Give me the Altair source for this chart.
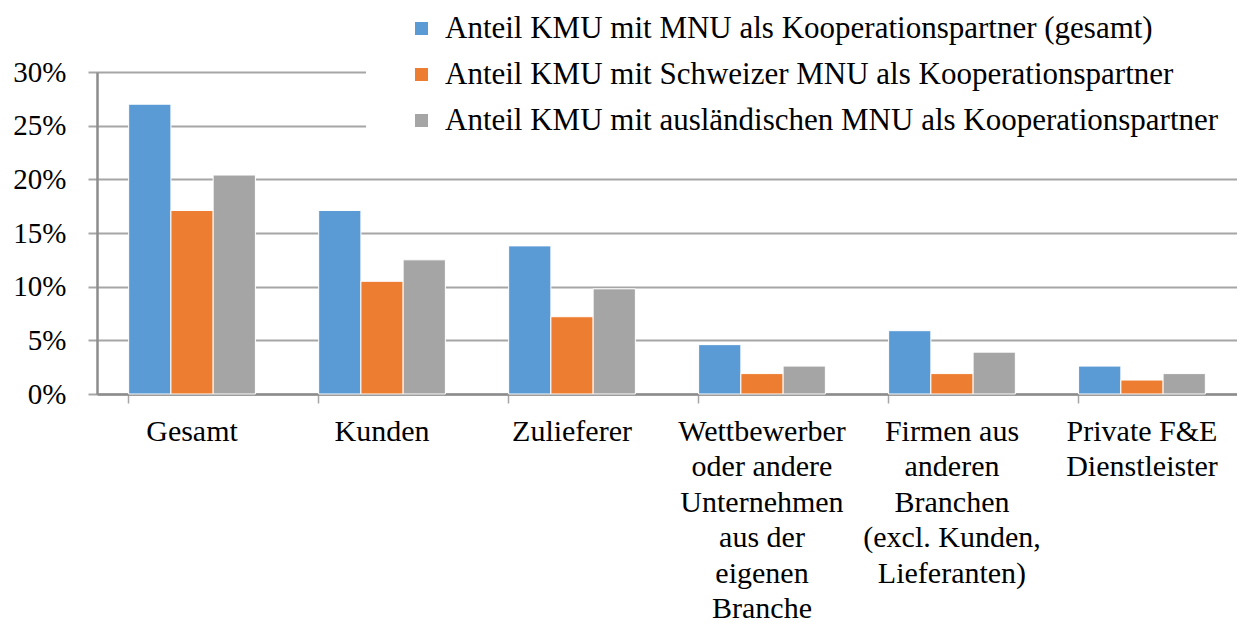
import altair as alt
import pandas as pd

categories = ["Gesamt", "Kunden", "Zulieferer",
              "Wettbewerber|oder andere|Unternehmen|aus der|eigenen|Branche",
              "Firmen aus|anderen|Branchen|(excl. Kunden,|Lieferanten)",
              "Private F&E|Dienstleister"]
series = ["Anteil KMU mit MNU als Kooperationspartner (gesamt)",
          "Anteil KMU mit Schweizer MNU als Kooperationspartner",
          "Anteil KMU mit ausländischen MNU als Kooperationspartner"]
gesamt = [0.270, 0.171, 0.138, 0.046, 0.059, 0.026]
schweizer = [0.171, 0.105, 0.072, 0.019, 0.019, 0.013]
auslaendisch = [0.204, 0.125, 0.098, 0.026, 0.039, 0.019]
colors = ["#5B9BD5", "#ED7D31", "#A5A5A5"]

rows = []
for s, vals in zip(series, [gesamt, schweizer, auslaendisch]):
    for c, v in zip(categories, vals):
        rows.append({"Kategorie": c, "Serie": s, "Wert": v})
df = pd.DataFrame(rows)

FONT = "Liberation Serif"

chart = alt.Chart(df).mark_bar(stroke="white", strokeWidth=1).encode(
    x=alt.X("Kategorie:N", sort=categories, title=None,
            scale=alt.Scale(paddingInner=0.333, paddingOuter=0.1667),
            axis=alt.Axis(labelAngle=0, labelExpr="split(datum.label, '|')",
                          labelFont=FONT, labelFontSize=30, labelColor="black",
                          labelLineHeight=35.5, labelPadding=13, labelBaseline="top",
                          bandPosition=0, ticks=True, tickSize=9, tickColor="#a6a6a6",
                          tickWidth=1.5, domainColor="#8c8c8c", domainWidth=2.5,
                          grid=False, labelLimit=300)),
    xOffset=alt.XOffset("Serie:N", sort=series),
    y=alt.Y("Wert:Q", title=None,
            scale=alt.Scale(domain=[0, 0.30], nice=False),
            axis=alt.Axis(format=".0%", values=[0, 0.05, 0.10, 0.15, 0.20, 0.25, 0.30],
                          labelFont=FONT, labelFontSize=29, labelColor="black",
                          labelPadding=22, tickSize=9, tickColor="#a6a6a6", tickWidth=2,
                          domainColor="#8c8c8c", domainWidth=2.5,
                          grid=True, gridColor="#a6a6a6", gridWidth=2)),
    color=alt.Color("Serie:N", sort=series,
                    scale=alt.Scale(domain=series, range=colors),
                    legend=alt.Legend(title=None, orient="none", legendX=269, legendY=-99,
                                      padding=40, fillColor="white",
                                      labelFont=FONT, labelFontSize=31, labelColor="black",
                                      symbolType="square", symbolSize=170,
                                      symbolStrokeWidth=0, labelOffset=8,
                                      rowPadding=14, labelLimit=900)),
).properties(
    width=1140, height=322,
    autosize=alt.AutoSizeParams(type="none"),
    padding={"left": 89, "top": 64, "right": 0, "bottom": 232},
).configure_view(stroke=None).configure(background="white")

chart.save("out.html", embed_options={"renderer": "svg", "actions": False})
